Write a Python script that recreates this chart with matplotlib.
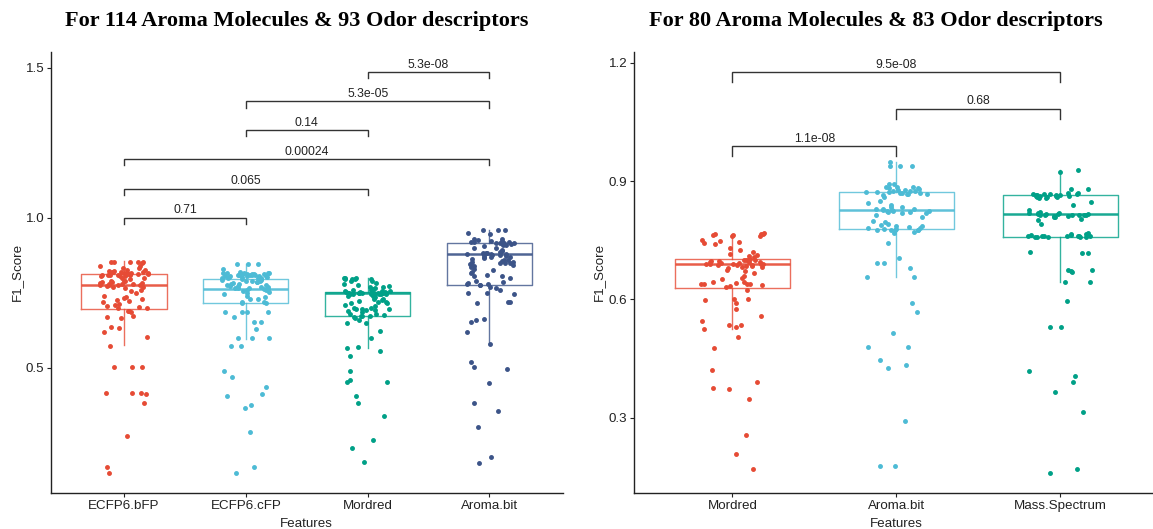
import matplotlib
matplotlib.use("Agg")
import matplotlib.pyplot as plt
import numpy as np

plt.rcParams['font.family'] = ['Liberation Sans', 'DejaVu Sans']

# ---- left panel: 114 molecules / 93 descriptors ----
left_title = "For 114 Aroma Molecules & 93 Odor descriptors"
left_groups = ["ECFP6.bFP", "ECFP6.cFP", "Mordred", "Aroma.bit"]

bfp = [0.853, 0.853, 0.853, 0.853, 0.853, 0.848, 0.840, 0.840, 0.832, 0.832,
       0.822, 0.820, 0.818, 0.818, 0.816, 0.815, 0.814, 0.813,
       0.812, 0.811, 0.810, 0.810, 0.809, 0.808, 0.806, 0.805,
       0.800, 0.798, 0.795, 0.790, 0.788,
       0.785, 0.782, 0.780, 0.778, 0.776, 0.775, 0.775, 0.774, 0.772, 0.770, 0.768, 0.765,
       0.760, 0.755, 0.750, 0.738, 0.735, 0.732, 0.728, 0.725, 0.722, 0.720,
       0.712, 0.710, 0.706, 0.703, 0.700, 0.698,
       0.690, 0.688, 0.685, 0.672, 0.668, 0.665, 0.637, 0.633, 0.618, 0.603, 0.573,
       0.501, 0.501, 0.501, 0.414, 0.414, 0.414, 0.412, 0.381, 0.273, 0.168, 0.150,
       0.826, 0.824, 0.821, 0.819, 0.817, 0.812, 0.809, 0.807, 0.790, 0.786, 0.783, 0.779]
cfp = [0.846, 0.846, 0.846, 0.829,
       0.818, 0.816, 0.815, 0.814, 0.813, 0.812, 0.812, 0.811, 0.810, 0.810, 0.809, 0.808, 0.807, 0.806, 0.805,
       0.803, 0.802, 0.800, 0.800, 0.799, 0.798, 0.797,
       0.795, 0.793, 0.790, 0.790, 0.788, 0.786, 0.782, 0.780, 0.778, 0.772, 0.772,
       0.768, 0.766, 0.765, 0.764, 0.763, 0.755, 0.752, 0.750,
       0.740, 0.735, 0.730, 0.728, 0.720, 0.718, 0.717, 0.716,
       0.687, 0.687, 0.687, 0.687, 0.670, 0.653, 0.653, 0.629, 0.598, 0.598, 0.598, 0.573, 0.573,
       0.490, 0.468, 0.434, 0.412, 0.406, 0.374, 0.366, 0.287, 0.170, 0.150,
       0.817, 0.814, 0.811, 0.809, 0.806, 0.804, 0.801, 0.796, 0.792, 0.784, 0.776, 0.774,
       0.770, 0.762, 0.760, 0.758, 0.745]
mordred_l = [0.800, 0.799, 0.798, 0.797, 0.796, 0.795, 0.794, 0.790, 0.788,
             0.782, 0.778, 0.775, 0.772, 0.770, 0.768, 0.765, 0.762, 0.760, 0.758, 0.756, 0.755, 0.754, 0.753,
             0.752, 0.751, 0.750, 0.750, 0.749, 0.749, 0.748, 0.748, 0.748, 0.747, 0.747, 0.746,
             0.745, 0.744, 0.742, 0.740, 0.738, 0.735,
             0.730, 0.728, 0.725, 0.722, 0.720, 0.718, 0.716, 0.714,
             0.710, 0.705, 0.700, 0.698, 0.696, 0.695, 0.694, 0.693, 0.692, 0.690,
             0.685, 0.680, 0.678, 0.675, 0.673, 0.672, 0.672,
             0.668, 0.665, 0.660, 0.650, 0.648, 0.623, 0.598, 0.568, 0.566, 0.557, 0.539,
             0.490, 0.459, 0.453, 0.452, 0.407, 0.381, 0.340, 0.259, 0.231, 0.187,
             0.750, 0.749, 0.748, 0.748, 0.746, 0.748]
aroma_l = [0.958, 0.958, 0.958, 0.950, 0.945,
           0.930, 0.928, 0.925, 0.923, 0.921, 0.920, 0.920, 0.918, 0.917, 0.916, 0.915, 0.914, 0.912,
           0.910, 0.908, 0.905, 0.900, 0.898,
           0.892, 0.888, 0.885, 0.883, 0.882, 0.881, 0.880, 0.880, 0.879, 0.878, 0.877, 0.876,
           0.874, 0.872, 0.870, 0.866, 0.862,
           0.856, 0.853, 0.851, 0.850, 0.850, 0.849, 0.847, 0.845, 0.842,
           0.835, 0.830, 0.825, 0.810, 0.806, 0.804, 0.800,
           0.790, 0.785, 0.782, 0.780, 0.778, 0.777, 0.776,
           0.760, 0.750, 0.748, 0.745, 0.720, 0.718, 0.715, 0.662, 0.660, 0.651, 0.620, 0.579,
           0.518, 0.501, 0.496, 0.450, 0.381, 0.356, 0.301, 0.203, 0.181,
           0.770, 0.765, 0.870, 0.868, 0.860, 0.858, 0.840, 0.820, 0.815]
left_values = [bfp, cfp, mordred_l, aroma_l]

# box statistics: q1, median, q3, lower / upper whisker
left_q1 = [0.697, 0.715, 0.672, 0.776]
left_med = [0.775, 0.763, 0.748, 0.879]
left_q3 = [0.812, 0.797, 0.752, 0.917]
left_wlo = [0.575, 0.597, 0.565, 0.579]
left_whi = [0.855, 0.846, 0.800, 0.960]

left_pairs = [(3, 4), (2, 4), (2, 3), (1, 4), (1, 3), (1, 2)]
left_pvals = ["5.3e-08", "5.3e-05", "0.14", "0.00024", "0.065", "0.71"]
left_levels = [1.485, 1.388, 1.292, 1.195, 1.096, 1.000]

# ---- right panel: 80 molecules / 83 descriptors ----
right_title = "For 80 Aroma Molecules & 83 Odor descriptors"
right_groups = ["Mordred", "Aroma.bit", "Mass.Spectrum"]

mordred_r = [0.768, 0.767, 0.766, 0.765, 0.764, 0.763, 0.762, 0.760,
             0.750, 0.747, 0.745, 0.743, 0.740, 0.715, 0.712, 0.710, 0.708,
             0.702, 0.701, 0.700, 0.700, 0.699, 0.698, 0.697, 0.696, 0.695, 0.694, 0.693, 0.692,
             0.691, 0.691, 0.690, 0.690, 0.689, 0.688, 0.687, 0.686, 0.685, 0.684, 0.683, 0.682, 0.680,
             0.675, 0.672, 0.668, 0.653,
             0.645, 0.643, 0.642, 0.640, 0.640, 0.639, 0.638, 0.636, 0.634, 0.632,
             0.624, 0.601, 0.600, 0.599, 0.592, 0.576, 0.558, 0.546, 0.535, 0.534, 0.531, 0.525,
             0.504, 0.476, 0.421, 0.391, 0.375, 0.373, 0.347, 0.256, 0.208, 0.170,
             0.730, 0.725, 0.720, 0.660, 0.655]
aroma_r = [0.949, 0.938, 0.938, 0.938, 0.893, 0.893,
           0.886, 0.885, 0.884, 0.883, 0.882, 0.881,
           0.876, 0.875, 0.874, 0.873, 0.872, 0.871, 0.870, 0.869, 0.868, 0.866,
           0.835, 0.835, 0.830, 0.828, 0.827, 0.826, 0.825, 0.824, 0.823, 0.822, 0.820, 0.818, 0.810,
           0.790, 0.788, 0.786, 0.785, 0.784, 0.782, 0.780,
           0.779, 0.778, 0.777, 0.776, 0.776, 0.776, 0.775,
           0.770, 0.769, 0.744, 0.706, 0.693, 0.692, 0.679, 0.658, 0.657, 0.590, 0.569,
           0.516, 0.480, 0.480, 0.446, 0.434, 0.425, 0.292, 0.178, 0.177,
           0.878, 0.877, 0.873, 0.867, 0.865, 0.860, 0.850, 0.845, 0.840, 0.829, 0.821, 0.815, 0.800, 0.795]
mass_r = [0.928, 0.922, 0.880, 0.880,
          0.870, 0.869, 0.868, 0.867, 0.866, 0.865, 0.865, 0.864, 0.863, 0.862, 0.861, 0.860, 0.858, 0.856,
          0.846, 0.827,
          0.822, 0.820, 0.819, 0.818, 0.817, 0.816, 0.815, 0.814, 0.813, 0.812, 0.810, 0.808, 0.805, 0.801,
          0.768, 0.766, 0.765, 0.764, 0.763, 0.762, 0.761, 0.760, 0.760, 0.759, 0.758, 0.757,
          0.721, 0.718, 0.717, 0.674, 0.674, 0.673, 0.670, 0.645, 0.644, 0.597, 0.531, 0.530,
          0.419, 0.406, 0.391, 0.366, 0.314, 0.169, 0.159,
          0.866, 0.864, 0.862, 0.860, 0.859, 0.817, 0.816, 0.815, 0.814, 0.813, 0.811,
          0.762, 0.761, 0.760, 0.759, 0.758, 0.840, 0.790]
right_values = [mordred_r, aroma_r, mass_r]

right_q1 = [0.630, 0.778, 0.759]
right_med = [0.691, 0.827, 0.816]
right_q3 = [0.702, 0.872, 0.865]
right_wlo = [0.526, 0.658, 0.645]
right_whi = [0.767, 0.949, 0.928]

right_pairs = [(1, 3), (2, 3), (1, 2)]
right_pvals = ["9.5e-08", "0.68", "1.1e-08"]
right_levels = [1.176, 1.083, 0.989]

npg = {"ECFP6.bFP": "#E64B35", "ECFP6.cFP": "#4DBBD5", "Mordred": "#00A087",
       "Aroma.bit": "#3C5488"}
right_colors = ["#E64B35", "#4DBBD5", "#00A087"]

W, H = 1153, 529
fig = plt.figure(figsize=(W / 100, H / 100), dpi=100)
axL = fig.add_axes([51 / W, 1 - 492.7 / H, (562.5 - 51) / W, (492.7 - 51.7) / H])
axR = fig.add_axes([634 / W, 1 - 492.7 / H, (1158.7 - 634) / W, (492.7 - 51.7) / H])

rng = np.random.default_rng(7)


def draw_panel(ax, groups, values, colors, q1, med, q3, wlo, whi,
               pairs, pvals, levels, tip, ylim, yticks):
    stats = []
    for i in range(len(groups)):
        stats.append(dict(q1=q1[i], med=med[i], q3=q3[i], whislo=wlo[i], whishi=whi[i], fliers=[]))
    pos = np.arange(1, len(groups) + 1)
    for i, st in enumerate(stats):
        c = colors[i]
        ax.bxp([st], positions=[pos[i]], widths=0.7, showfliers=False, showcaps=False,
               boxprops=dict(color=c, linewidth=1.0, alpha=0.8),
               whiskerprops=dict(color=c, linewidth=1.0, alpha=0.8),
               medianprops=dict(color=c, linewidth=1.8, alpha=0.9))
        v = np.asarray(values[i])
        x = pos[i] + rng.uniform(-0.2, 0.2, size=len(v))
        ax.scatter(x, v, s=12.5, color=c, linewidths=0, zorder=3)

    for (a, b), p, lvl in zip(pairs, pvals, levels):
        ax.plot([a, a, b, b], [lvl - tip, lvl, lvl, lvl - tip], color='#333333', lw=1.0,
                solid_joinstyle='miter')
        ax.annotate(p, ((a + b) / 2, lvl), xytext=(0, 3.2), textcoords='offset points',
                    ha='center', va='baseline', fontsize=8.8, color='#222222')

    ax.set_xlim(0.4, len(groups) + 0.6)
    ax.set_ylim(*ylim)
    ax.set_xticks(pos)
    ax.set_xticklabels(groups)
    ax.set_yticks(yticks)
    ax.set_yticklabels([f"{t:.1f}" for t in yticks])
    for s in ['top', 'right']:
        ax.spines[s].set_visible(False)
    for s in ['left', 'bottom']:
        ax.spines[s].set_color('#222222')
        ax.spines[s].set_linewidth(1.0)
    ax.tick_params(axis='both', colors='#222222', labelcolor='#222222', labelsize=9.6,
                   length=2.6, width=0.8)
    ax.tick_params(axis='x', pad=2.8)
    ax.tick_params(axis='y', pad=2.2)
    ax.set_xlabel("Features", fontsize=9.6, color='#222222', va='center')
    ax.set_ylabel("F1_Score", fontsize=9.6, color='#222222', va='center')
    ax.xaxis.set_label_coords(0.5, -31 / 441)
    ax.set_facecolor('none')


draw_panel(axL, left_groups, left_values, [npg[g] for g in left_groups],
           left_q1, left_med, left_q3, left_wlo, left_whi,
           left_pairs, left_pvals, left_levels, 0.021, (0.0833, 1.553), [0.5, 1.0, 1.5])
axL.yaxis.set_label_coords((16.7 - 51) / 511.5, 0.5)

draw_panel(axR, right_groups, right_values, right_colors,
           right_q1, right_med, right_q3, right_wlo, right_whi,
           right_pairs, right_pvals, right_levels, 0.025, (0.11, 1.228), [0.3, 0.6, 0.9, 1.2])
axR.yaxis.set_label_coords((599 - 634) / 524.7, 0.5)

fig.text(296.5 / W, 1 - 21 / H, left_title, ha='center', va='center',
         family='Liberation Serif', fontweight='bold', fontsize=16, color='black')
fig.text(876 / W, 1 - 21 / H, right_title, ha='center', va='center',
         family='Liberation Serif', fontweight='bold', fontsize=16, color='black')

fig.savefig("out.png", dpi=100)
